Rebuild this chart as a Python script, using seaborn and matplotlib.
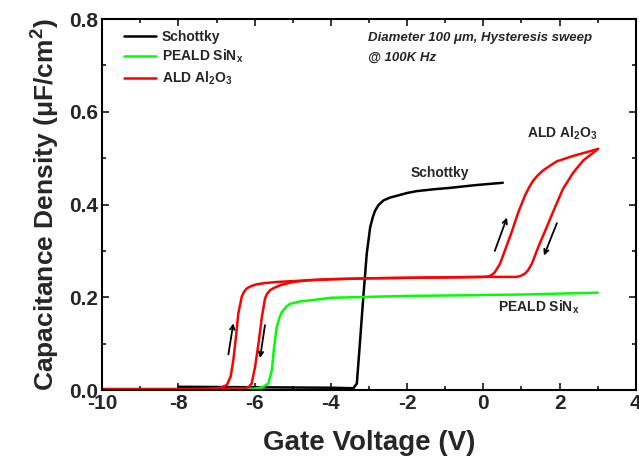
import numpy as np
import pandas as pd
import matplotlib
matplotlib.use('Agg')
import matplotlib.pyplot as plt
import seaborn as sns

# Schottky C-V curve
schottky_v = [-8, -6, -4, -3.5, -3.41, -3.32, -3.24, -3.15, -3.06, -2.97, -2.9, -2.84, -2.75,
              -2.62, -2.45, -2.27, -2.0, -1.75, -1.3, -0.88, -0.2, 0.51]
schottky_c = [0.007, 0.006, 0.005, 0.004, 0.004, 0.014, 0.10, 0.201, 0.294, 0.351, 0.373, 0.387,
              0.399, 0.409, 0.415, 0.419, 0.425, 0.429, 0.433, 0.436, 0.442, 0.447]

# PEALD SiNx C-V curve
sinx_v = [-10, -7, -6, -5.8, -5.64, -5.55, -5.49, -5.42, -5.35, -5.29, -5.18, -5.07, -4.81, -4.37,
          -4, -3, -2, -0.88, 0, 1, 2, 3]
sinx_c = [0.001, 0.002, 0.003, 0.006, 0.014, 0.043, 0.093, 0.136, 0.156, 0.168, 0.179, 0.186,
          0.191, 0.195, 0.199, 0.201, 0.203, 0.204, 0.205, 0.206, 0.208, 0.21]

# ALD Al2O3 forward sweep (-10 V -> 3 V)
al_fwd_v = [-10, -8, -7.5, -7.2, -6.91, -6.73, -6.63, -6.56, -6.49, -6.43, -6.34, -6.28, -6.21,
            -6.1, -5.95, -5.7, -5.42, -4.55, -4, -3, -2, -1, 0, 0.128, 0.22, 0.30, 0.435, 0.566,
            0.74, 0.915, 1.09, 1.2, 1.31, 1.44, 1.57, 1.92, 2.36, 2.71, 3.01]
al_fwd_c = [0.002, 0.002, 0.002, 0.003, 0.004, 0.011, 0.029, 0.065, 0.115, 0.165, 0.201, 0.212, 0.219,
            0.224, 0.228, 0.231, 0.233, 0.237, 0.239, 0.241, 0.242, 0.243, 0.244, 0.245, 0.248,
            0.254, 0.272, 0.301, 0.340, 0.383, 0.419, 0.437, 0.452, 0.464, 0.474, 0.493, 0.505,
            0.513, 0.52]

# ALD Al2O3 reverse sweep (3 V -> -10 V)
al_rev_v = [3.01, 2.62, 2.36, 2.09, 1.88, 1.66, 1.44, 1.27, 1.17, 1.09, 0.98, 0.87, 0.52, 0, -1,
            -2, -3, -4, -4.55, -5.0, -5.33, -5.5, -5.6, -5.68, -5.73, -5.81, -5.9, -5.99, -6.08,
            -6.15, -6.25, -7, -10]
al_rev_c = [0.52, 0.495, 0.469, 0.434, 0.394, 0.351, 0.308, 0.272, 0.258, 0.251, 0.246, 0.244,
            0.244, 0.244, 0.243, 0.242, 0.241, 0.239, 0.237, 0.233, 0.226, 0.220, 0.215, 0.207,
            0.197, 0.158, 0.10, 0.05, 0.014, 0.007, 0.004, 0.002, 0.002]

sns.set_style('ticks')
plt.rcParams['font.family'] = ['Liberation Sans', 'DejaVu Sans']
plt.rcParams['font.weight'] = 'bold'
plt.rcParams['mathtext.fontset'] = 'custom'
plt.rcParams['mathtext.bf'] = 'Liberation Sans:bold'
plt.rcParams['mathtext.rm'] = 'Liberation Sans:bold'
plt.rcParams['mathtext.default'] = 'bf'
plt.rcParams['axes.unicode_minus'] = False

fig = plt.figure(figsize=(6.39, 4.66), dpi=100)
ax = fig.add_axes([0.16, 0.163, 0.835, 0.796])

lw = 1.8
sns.lineplot(x=schottky_v, y=schottky_c, sort=False, estimator=None, color='black', lw=lw,
             label='Schottky', ax=ax)
sns.lineplot(x=sinx_v, y=sinx_c, sort=False, estimator=None, color='#00ff00', lw=lw,
             label='PEALD SiN$_x$', ax=ax)
sns.lineplot(x=al_fwd_v, y=al_fwd_c, sort=False, estimator=None, color='red', lw=lw,
             label='ALD Al$_2$O$_3$', ax=ax)
sns.lineplot(x=al_rev_v, y=al_rev_c, sort=False, estimator=None, color='red', lw=lw, ax=ax)
for line in ax.get_lines():
    line.set_solid_joinstyle('round')

# sweep direction arrows
arrows = [((-6.69, 0.077), (-6.56, 0.144)),
          ((-5.73, 0.14), (-5.86, 0.069)),
          ((0.30, 0.30), (0.62, 0.372)),
          ((1.93, 0.36), (1.59, 0.29))]
for start, end in arrows:
    ax.annotate('', xy=end, xytext=start,
                arrowprops=dict(arrowstyle='->', color='black', lw=1.3,
                                shrinkA=0, shrinkB=0, mutation_scale=8))

ax.text(-1.14, 0.469, 'Schottky', fontsize=10, fontweight='bold', ha='center', va='center')
ax.text(2.06, 0.553, 'ALD Al$_2$O$_3$', fontsize=10, fontweight='bold', ha='center', va='center')
ax.text(1.46, 0.178, 'PEALD SiN$_x$', fontsize=10, fontweight='bold', ha='center', va='center')
ax.text(-3.03, 0.759, 'Diameter 100 μm, Hysteresis sweep', fontsize=9.5,
        fontweight='bold', style='italic', ha='left', va='center')
ax.text(-3.03, 0.716, '@ 100K Hz', fontsize=9.5,
        fontweight='bold', style='italic', ha='left', va='center')

ax.set_xlim(-10, 4)
ax.set_ylim(0, 0.8)
ax.set_xticks(np.arange(-10, 5, 2))
ax.set_xticks(np.arange(-9, 4, 2), minor=True)
ax.set_yticks(np.arange(0, 0.81, 0.2))
ax.set_yticks(np.arange(0.1, 0.8, 0.2), minor=True)
ax.set_yticklabels(['0.0', '0.2', '0.4', '0.6', '0.8'])
ax.tick_params(which='both', direction='in', top=True, right=True, width=1.3)
ax.tick_params(which='major', length=5, labelsize=15, pad=3)
ax.tick_params(which='minor', length=3)
for s in ax.spines.values():
    s.set_linewidth(1.5)
    s.set_color('black')
    s.set_visible(True)

ax.set_xlabel('Gate Voltage (V)', fontsize=20, fontweight='bold', labelpad=12)
ax.set_ylabel('Capacitance Density (μF/cm$^2$)', fontsize=19, fontweight='bold', labelpad=5)

ax.legend(loc='upper left', bbox_to_anchor=(0.018, 1.005), frameon=False, fontsize=10,
          handlelength=2.3, handletextpad=0.4, labelspacing=0.3)

fig.savefig('out.png', dpi=100)
